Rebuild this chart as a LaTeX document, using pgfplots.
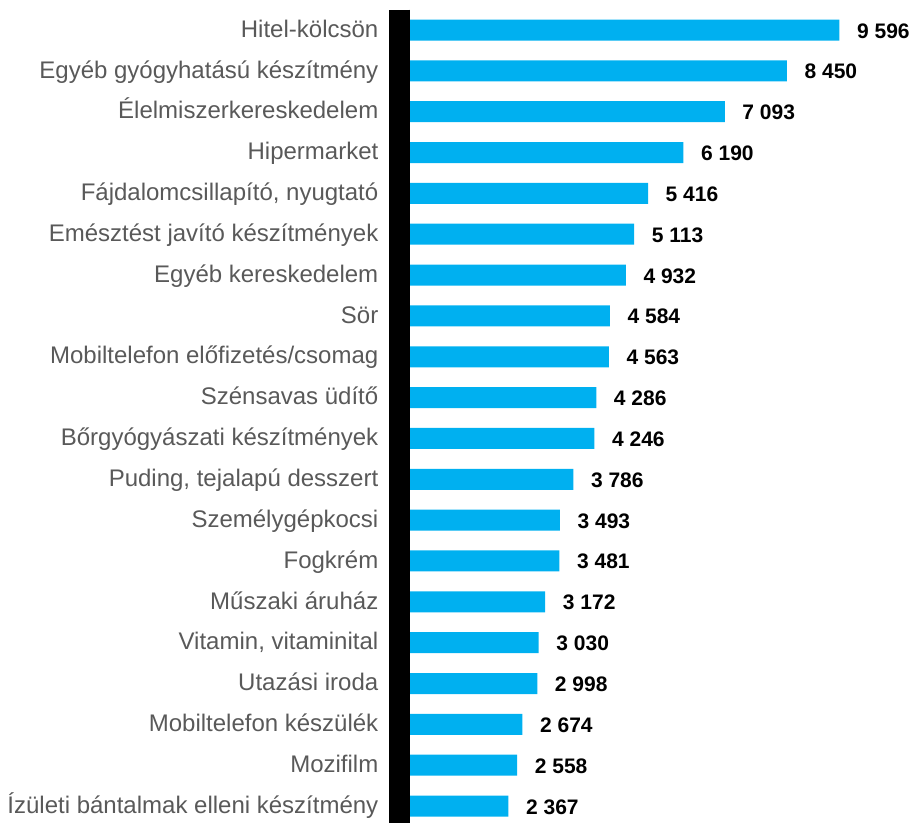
\documentclass[border=0pt]{standalone}
\usepackage{pgfplots}
\pgfplotsset{compat=1.18}
\usepackage{fontspec}
\setmainfont{Liberation Sans}
\usetikzlibrary{calc}
\definecolor{barblue}{HTML}{00B0F0}
\definecolor{labgray}{HTML}{595959}
\begin{document}
\begin{tikzpicture}
\begin{axis}[
  name=ax,
  scale only axis,
  width=439.4bp, height=813.4bp,
  xmin=0, xmax=9596,
  ymin=-0.5, ymax=19.416,
  y dir=reverse,
  xbar, bar width=21bp, bar shift=0pt,
  hide x axis,
  axis y line*=left,
  y axis line style={black, line width=21bp, -},
  axis on top=true,
  ytick={0,...,19},
  major tick length=0pt,
  yticklabels={Hitel-kölcsön, Egyéb gyógyhatású készítmény, Élelmiszerkereskedelem, Hipermarket, {Fájdalomcsillapító, nyugtató}, Emésztést javító készítmények, Egyéb kereskedelem, Sör, Mobiltelefon előfizetés/csomag, Szénsavas üdítő, Bőrgyógyászati készítmények, {Puding, tejalapú desszert}, Személygépkocsi, Fogkrém, Műszaki áruház, {Vitamin, vitaminital}, Utazási iroda, Mobiltelefon készülék, Mozifilm, Ízületi bántalmak elleni készítmény},
  yticklabel style={font=\fontsize{24bp}{28bp}\selectfont, text=labgray, inner sep=0pt, text height=17.4bp, text depth=3bp, xshift=-21.5bp},
  clip=false,
  nodes near coords,
  point meta=explicit symbolic,
  every node near coord/.append style={font=\fontsize{21bp}{24bp}\selectfont\bfseries, black, anchor=west, inner sep=0pt, text height=15bp, text depth=0bp, xshift=17.5bp, yshift=-0.5bp},
]
\addplot[fill=barblue, draw=none] coordinates {
 (9596,0) [9 596]
 (8450,1) [8 450]
 (7093,2) [7 093]
 (6190,3) [6 190]
 (5416,4) [5 416]
 (5113,5) [5 113]
 (4932,6) [4 932]
 (4584,7) [4 584]
 (4563,8) [4 563]
 (4286,9) [4 286]
 (4246,10) [4 246]
 (3786,11) [3 786]
 (3493,12) [3 493]
 (3481,13) [3 481]
 (3172,14) [3 172]
 (3030,15) [3 030]
 (2998,16) [2 998]
 (2674,17) [2 674]
 (2558,18) [2 558]
 (2367,19) [2 367]
};
\end{axis}
\pgfresetboundingbox
\path ($(ax.south west)+(-400bp,0)$) rectangle ($(ax.north east)+(75.6bp,9.6bp)$);
\end{tikzpicture}
\end{document}
